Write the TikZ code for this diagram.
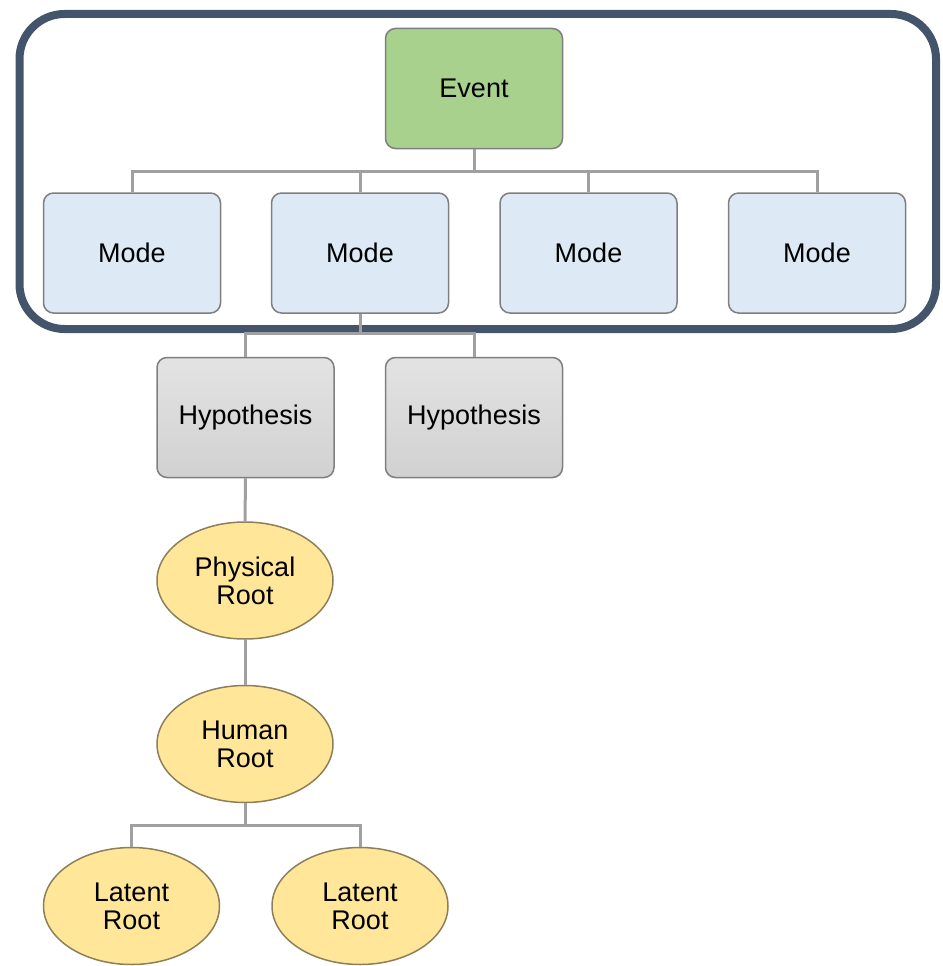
\documentclass[tikz,border=0pt]{standalone}
\usepackage{fontspec}
\setmainfont{Liberation Sans}
\usetikzlibrary{shapes.geometric}
\definecolor{frameblue}{HTML}{44546A}
\definecolor{eventgreen}{HTML}{A9D18E}
\definecolor{modeblue}{HTML}{DDEAF6}
\definecolor{boxedge}{HTML}{7F7F7F}
\definecolor{connline}{HTML}{A0A0A0}
\definecolor{rootyellow}{HTML}{FFE699}
\definecolor{rootedge}{HTML}{8C7F5A}
\tikzset{
  lbl/.style={font=\fontsize{27}{28}\selectfont, text=black, align=center},
  box/.style={lbl, rectangle, rounded corners=10pt, draw=boxedge, line width=1.5pt,
              minimum width=177pt, minimum height=120pt, inner sep=0pt},
  eventbox/.style={box, fill=eventgreen},
  modebox/.style={box, fill=modeblue},
  hypbox/.style={box, top color=gray!22, bottom color=gray!36},
  rootnode/.style={lbl, ellipse, fill=rootyellow, draw=rootedge, line width=1.5pt,
                   minimum width=176pt, minimum height=117pt, inner sep=0pt},
  conn/.style={draw=connline, line width=3pt},
  frame/.style={draw=frameblue, line width=8pt, rounded corners=45pt}
}
\begin{document}
\begin{tikzpicture}[x=1pt,y=-1pt]
  \useasboundingbox (0,0) rectangle (942,966);

  % grouping frame around the event level
  \draw[frame] (19.5,14) rectangle (936,329);

  % nodes
  \node[eventbox] (event) at (474,88.5) {Event};
  \node[modebox] (m1) at (132,253) {Mode};
  \node[modebox] (m2) at (360,253) {Mode};
  \node[modebox] (m3) at (588.5,253) {Mode};
  \node[modebox] (m4) at (817,253) {Mode};
  \node[hypbox] (h1) at (245.5,417.5) {Hypothesis};
  \node[hypbox] (h2) at (474,417.5) {Hypothesis};
  \node[rootnode] (phys) at (245,580.5) {Physical\\Root};
  \node[rootnode] (human) at (245,744) {Human\\Root};
  \node[rootnode] (lat1) at (131.5,906) {Latent\\Root};
  \node[rootnode] (lat2) at (360,906) {Latent\\Root};

  % connectors
  \foreach \m in {m1,m2,m3,m4}
    \draw[conn] (\m.north) -- ++(0,-21) -| (event.south);
  \foreach \h in {h1,h2}
    \draw[conn] (\h.north) -- ++(0,-23) -| (m2.south);
  \draw[conn] (h1.south) -- (phys.north);
  \draw[conn] (phys.south) -- (human.north);
  \foreach \l in {lat1,lat2}
    \draw[conn] (\l.north) -- ++(0,-21) -| (human.south);
\end{tikzpicture}
\end{document}
